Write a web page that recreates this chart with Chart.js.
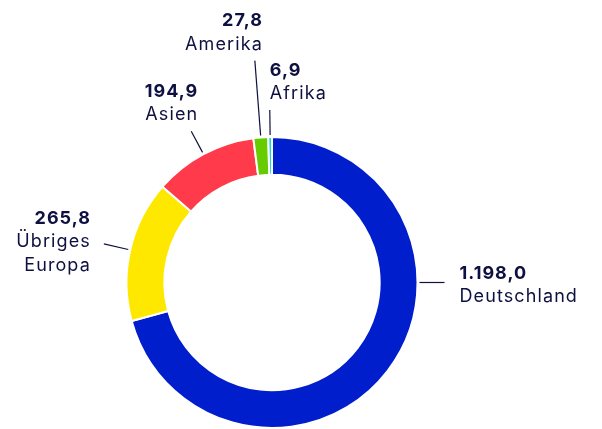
<!DOCTYPE html>
<html><head><meta charset="utf-8">
<script src="https://cdn.jsdelivr.net/npm/chart.js@4/dist/chart.umd.min.js"></script>
<style>html,body{margin:0;padding:0;background:#fff}#wrap{position:relative;width:602px;height:429px}</style>
</head><body><div id="wrap"><canvas id="c" width="602" height="429"></canvas></div>
<script>
const categories = ["Deutschland", "Übriges\nEuropa", "Asien", "Amerika", "Afrika"];
const values = [1198.0, 265.8, 194.9, 27.8, 6.9];
const valueLabels = ["1.198,0", "265,8", "194,9", "27,8", "6,9"];
const colors = ["#001ECC", "#FFE800", "#FF3A4A", "#66CC00", "#14DCCB"];

const TEXT = "#0D1040";
// label placement: side, optional fixed angle (deg clockwise from top), line length, text offsets
const labelCfg = [
  {angle: 90, len: 25, align: "left", dx: 15, mode: "center"},
  {len: 25, align: "right", dx: -13, mode: "center"},
  {len: 24, align: "right", dx: 7, mode: "above"},
  {len: 75, align: "right", dx: 8, mode: "above"},
  {len: 25, align: "left", dx: 0, mode: "above"}
];

const labelPlugin = {
  id: "labels",
  afterDatasetsDraw(chart) {
    const ctx = chart.ctx;
    const meta = chart.getDatasetMeta(0);
    meta.data.forEach((arc, i) => {
      const p = arc.getProps(["x","y","startAngle","endAngle","outerRadius"], true);
      const cfg = labelCfg[i];
      let a = cfg.angle !== undefined ? (cfg.angle - 90) * Math.PI / 180 : (p.startAngle + p.endAngle) / 2;
      const r1 = p.outerRadius + 2, r2 = p.outerRadius + 2 + cfg.len;
      const x1 = p.x + Math.cos(a) * r1, y1 = p.y + Math.sin(a) * r1;
      const x2 = p.x + Math.cos(a) * r2, y2 = p.y + Math.sin(a) * r2;
      ctx.save();
      ctx.strokeStyle = TEXT; ctx.lineWidth = 1.2;
      ctx.beginPath(); ctx.moveTo(x1, y1); ctx.lineTo(x2, y2); ctx.stroke();
      const lines = categories[i].split("\n");
      const lh = 23.5;
      const n = lines.length + 1;
      let firstBase;
      if (cfg.mode === "center") {
        firstBase = (n === 3) ? y2 - lh + 4 - 0.5 : y2 - 4;
      } else {
        firstBase = y2 - 11 - (n - 1) * lh;
      }
      const tx = x2 + cfg.dx;
      ctx.textAlign = cfg.align; ctx.textBaseline = "alphabetic";
      ctx.fillStyle = TEXT;
      ctx.letterSpacing = "1px";
      ctx.font = "bold 18px Inter";
      ctx.fillText(valueLabels[i], tx, firstBase);
      ctx.font = "18px Inter";
      ctx.letterSpacing = "1.1px";
      lines.forEach((t, k) => ctx.fillText(t, tx, firstBase + (k + 1) * lh));
      ctx.restore();
    });
  }
};

new Chart(document.getElementById("c"), {
  type: "doughnut",
  data: {
    labels: categories,
    datasets: [{
      data: values,
      backgroundColor: colors,
      borderColor: "#ffffff",
      borderWidth: 2,
      hoverOffset: 0
    }]
  },
  options: {
    responsive: false,
    animation: false,
    cutout: "74%",
    layout: {padding: {left: 125, right: 183, top: 136, bottom: 0}},
    plugins: {legend: {display: false}, tooltip: {enabled: false}}
  },
  plugins: [labelPlugin]
});
</script></body></html>
